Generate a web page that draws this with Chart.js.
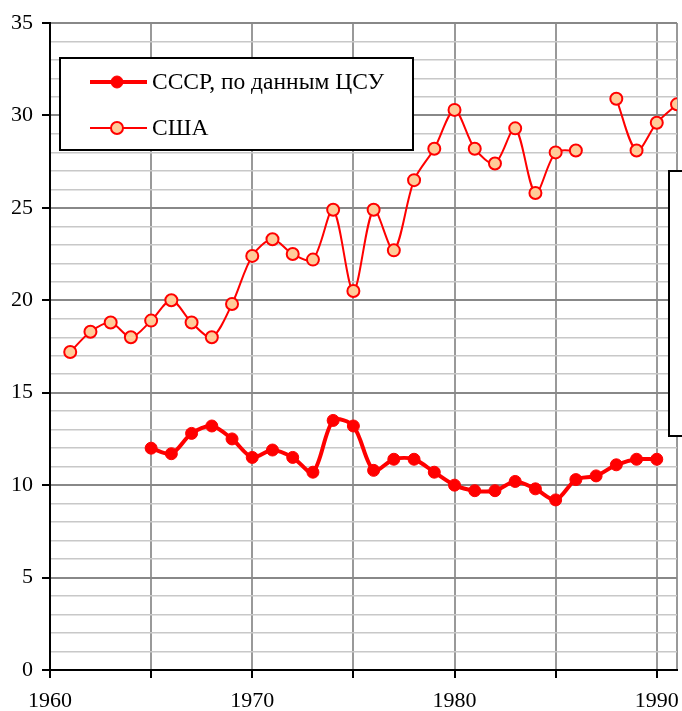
<!DOCTYPE html>
<html>
<head>
<meta charset="utf-8">
<script src="https://cdn.jsdelivr.net/npm/chart.js@4.4.1/dist/chart.umd.min.js"></script>
<style>
  html, body { margin: 0; padding: 0; background: #fff; }
  #chart { display: block; }
</style>
</head>
<body>
<canvas id="chart" width="682" height="711"></canvas>
<script>
// years on the x axis
const years = [1961, 1962, 1963, 1964, 1965, 1966, 1967, 1968, 1969, 1970,
               1971, 1972, 1973, 1974, 1975, 1976, 1977, 1978, 1979, 1980,
               1981, 1982, 1983, 1984, 1985, 1986, 1987, 1988, 1989, 1990, 1991];

// СССР, по данным ЦСУ
const ussr = [null, null, null, null, 12.0, 11.7, 12.8, 13.2, 12.5, 11.5,
              11.9, 11.5, 10.7, 13.5, 13.2, 10.8, 11.4, 11.4, 10.7, 10.0,
              9.7, 9.7, 10.2, 9.8, 9.2, 10.3, 10.5, 11.1, 11.4, 11.4, null];

// США
const usa = [17.2, 18.3, 18.8, 18.0, 18.9, 20.0, 18.8, 18.0, 19.8, 22.4,
             23.3, 22.5, 22.2, 24.9, 20.5, 24.9, 22.7, 26.5, 28.2, 30.3,
             28.2, 27.4, 29.3, 25.8, 28.0, 28.1, null, 30.9, 28.1, 29.6, 30.6];

const xTicks = [1960, 1965, 1970, 1975, 1980, 1985, 1990, 1991];
const seriesNames = ['СССР, по данным ЦСУ', 'США'];

const serif = '"Liberation Serif", "Times New Roman", serif';

function toPoints(values) {
    return years.map((y, i) => ({ x: y, y: values[i] }));
}

// legend box floating inside the plot, plus the clipped frame on the right
const boxesPlugin = {
    id: 'boxes',
    afterDraw(chart) {
        const ctx = chart.ctx;
        ctx.save();

        // clipped frame at the right edge
        ctx.fillStyle = '#fff';
        ctx.fillRect(669, 171, 40, 265);
        ctx.strokeStyle = '#000';
        ctx.lineWidth = 2;
        ctx.strokeRect(669, 171, 40, 265);

        // legend
        ctx.fillStyle = '#fff';
        ctx.fillRect(60, 58, 353, 92);
        ctx.strokeRect(60, 58, 353, 92);

        const rows = [82, 128];
        chart.data.datasets.forEach((ds, i) => {
            const y = rows[i];
            ctx.strokeStyle = ds.borderColor;
            ctx.lineWidth = ds.borderWidth;
            ctx.beginPath();
            ctx.moveTo(90, y);
            ctx.lineTo(147, y);
            ctx.stroke();
            ctx.beginPath();
            ctx.arc(117, y, ds.pointRadius, 0, Math.PI * 2);
            ctx.fillStyle = ds.pointBackgroundColor;
            ctx.fill();
            ctx.lineWidth = ds.pointBorderWidth;
            ctx.strokeStyle = ds.pointBorderColor;
            ctx.stroke();
            ctx.fillStyle = '#000';
            ctx.font = '23.5px ' + serif;
            ctx.textBaseline = 'middle';
            ctx.fillText(ds.label, 152, y + 1);
        });
        ctx.restore();
    }
};

const ctx = document.getElementById('chart').getContext('2d');
new Chart(ctx, {
    type: 'line',
    data: {
        datasets: [
            {
                label: seriesNames[0],
                data: toPoints(ussr),
                borderColor: '#ff0000',
                borderWidth: 4,
                pointRadius: 6,
                pointBackgroundColor: '#ff0000',
                pointBorderColor: '#ff0000',
                pointBorderWidth: 1,
                tension: 0.3,
                spanGaps: false
            },
            {
                label: seriesNames[1],
                data: toPoints(usa),
                borderColor: '#ff0000',
                borderWidth: 2,
                pointRadius: 6,
                pointBackgroundColor: '#ffcc99',
                pointBorderColor: '#ff0000',
                pointBorderWidth: 2,
                tension: 0.3,
                spanGaps: false
            }
        ]
    },
    options: {
        responsive: false,
        animation: false,
        layout: {
            autoPadding: false,
            padding: { top: 23, right: 5, left: 0, bottom: 0 }
        },
        plugins: {
            legend: { display: false },
            tooltip: { enabled: false }
        },
        scales: {
            x: {
                type: 'linear',
                min: 1960,
                max: 1991,
                afterBuildTicks: scale => {
                    scale.ticks = xTicks.map(v => ({ value: v }));
                },
                afterFit: scale => {
                    scale.height = 41;
                    scale.paddingLeft = 0;
                    scale.paddingRight = 0;
                },
                ticks: {
                    autoSkip: false,
                    maxRotation: 0,
                    padding: 10,
                    color: '#000',
                    font: { family: serif, size: 22 },
                    callback: v => (v % 10 === 0 ? String(v) : '')
                },
                grid: {
                    color: '#999',
                    lineWidth: 2,
                    tickLength: 8,
                    tickWidth: 2,
                    tickColor: c => (c.tick && c.tick.value % 5 === 0 ? '#000' : 'rgba(0,0,0,0)')
                },
                border: { color: '#000', width: 2 }
            },
            y: {
                min: 0,
                max: 35,
                afterFit: scale => {
                    scale.width = 50;
                    scale.paddingTop = 0;
                    scale.paddingBottom = 0;
                },
                ticks: {
                    stepSize: 1,
                    autoSkip: false,
                    padding: 9,
                    color: '#000',
                    font: { family: serif, size: 22 },
                    callback: v => (v % 5 === 0 ? String(v) : '')
                },
                grid: {
                    color: c => (c.tick && c.tick.value % 5 === 0 ? '#888' : '#c8c8c8'),
                    lineWidth: c => (c.tick && c.tick.value % 5 === 0 ? 2 : 1.5),
                    tickLength: 8,
                    tickWidth: 2,
                    tickColor: c => (c.tick && c.tick.value % 5 === 0 ? '#000' : 'rgba(0,0,0,0)')
                },
                border: { color: '#000', width: 2 }
            }
        }
    },
    plugins: [boxesPlugin]
});
</script>
</body>
</html>
